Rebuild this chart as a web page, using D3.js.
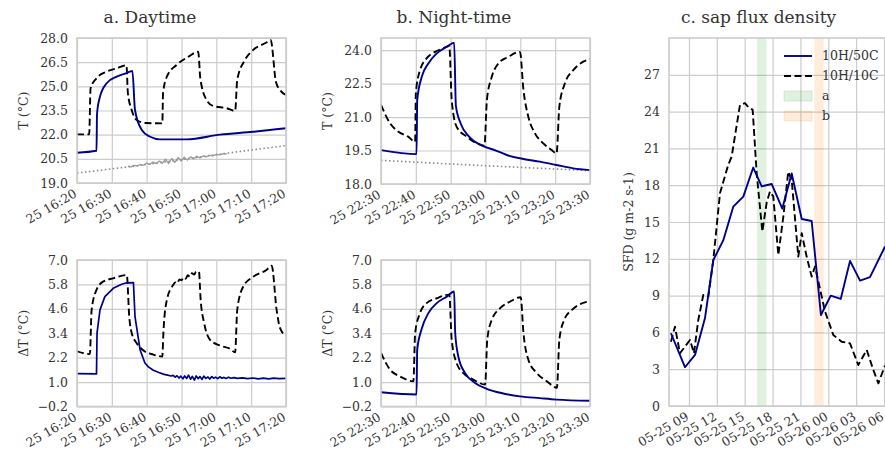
<!DOCTYPE html>
<html>
<head>
<meta charset="utf-8">
<script src="https://cdn.jsdelivr.net/npm/d3@7"></script>
<style>
body { margin: 0; background: #fff; }
svg text { font-family: "DejaVu Serif", serif; fill: #333; }
</style>
</head>
<body>
<svg width="885" height="456"></svg>
<script>
// tick labels
const dayTickLabels = ["25 16:20", "25 16:30", "25 16:40", "25 16:50", "25 17:00", "25 17:10", "25 17:20"];
const nightTickLabels = ["25 22:30", "25 22:40", "25 22:50", "25 23:00", "25 23:10", "25 23:20", "25 23:30"];
const sfdTickLabels = ["05-25 09", "05-25 12", "05-25 15", "05-25 18", "05-25 21", "05-26 00", "05-26 03", "05-26 06"];
const dayTTicks = [19, 20.5, 22, 23.5, 25, 26.5, 28];
const nightTTicks = [18, 19.5, 21, 22.5, 24];
const deltaTicks = [-0.2, 1, 2.2, 3.4, 4.6, 5.8, 7];
const sfdTicks = [0, 3, 6, 9, 12, 15, 18, 21, 24, 27];
const bandA = ["05-25 16:20", "05-25 17:20"];
const bandB = ["05-25 22:30", "05-25 23:30"];

// a. daytime, [minutes after 16:20, value]
const dayT50 = [[0,20.88],[5.6,21.0],[5.75,23.3],[6.6,24.36],[8.5,25.19],[11.4,25.6],[14,25.8],[15.9,25.95],[16.65,23.53],[18.6,22.29],[21,21.87],[23.8,21.71],[31.5,21.71],[41.1,22.0],[50.6,22.18],[60,22.4]];
const dayT10 = [[0,22.02],[3.5,22.02],[3.9,24.88],[5.6,25.5],[8.5,25.91],[11.4,26.12],[14.2,26.3],[14.6,24.6],[15.7,23.53],[17.1,22.91],[20,22.72],[24.5,22.7],[24.7,24.57],[25.8,25.6],[28.6,26.33],[32,26.84],[34.8,27.15],[35.4,25.5],[37.2,24.15],[39.1,23.78],[43,23.64],[45.4,23.47],[46,25.4],[48.2,26.63],[50.6,27.26],[54.4,27.72],[55.6,27.88],[57.1,25.29],[58.3,24.77],[60,24.46]];
const dayTref = [[0,19.62],[20,20.15],[40,20.76],[60,21.32]];
const dayTrefNoise = [[14.6,20.05],[15.5,20.0],[16.4,20.1],[17.3,20.06],[18.2,20.15],[19.1,20.1],[20,20.24],[20.9,20.15],[21.8,20.3],[22.7,20.2],[23.6,20.36],[24.5,20.22],[25.4,20.48],[26.3,20.2],[27.2,20.52],[28.1,20.28],[29,20.58],[29.9,20.36],[30.8,20.6],[31.7,20.42],[32.6,20.62],[33.5,20.5],[34.4,20.66],[35.3,20.56],[36.2,20.68],[37.1,20.62],[38,20.72],[39,20.68],[40,20.78],[41,20.74],[42,20.82],[43,20.8]];
const dayD50 = [[0,1.42],[5.6,1.4],[5.75,3.41],[6.6,4.55],[8,5.2],[10.4,5.61],[12.8,5.81],[14.3,5.88],[16.2,5.89],[16.65,4.22],[18.1,2.59],[19.5,1.94],[20.5,1.75],[21.9,1.58],[23.5,1.47],[25,1.38],[26,1.34],[27,1.3],[27.6,1.33],[28.2,1.24],[28.7,1.31],[29.3,1.2],[29.8,1.29],[30.4,1.16],[30.9,1.3],[31.5,1.18],[32,1.34],[32.6,1.14],[33.1,1.28],[33.7,1.1],[34.2,1.3],[34.8,1.17],[35.3,1.27],[35.9,1.13],[36.4,1.29],[37,1.18],[37.6,1.25],[38.1,1.15],[38.7,1.27],[39.2,1.19],[39.8,1.24],[40.4,1.17],[41,1.26],[41.6,1.19],[42.2,1.23],[42.8,1.18],[43.5,1.24],[44.2,1.19],[45,1.22],[46,1.18],[47.5,1.21],[49,1.17],[50.5,1.2],[52,1.16],[53.5,1.19],[55,1.16],[56.5,1.19],[58,1.17],[60,1.18]];
const dayD10 = [[0,2.51],[3.7,2.38],[4.2,4.55],[5.6,5.53],[7.5,5.94],[10.4,6.1],[14.3,6.26],[15,4.22],[15.7,3.41],[17.1,2.92],[19,2.56],[21.9,2.35],[24.5,2.26],[24.8,3.41],[25.8,5.04],[27.6,5.77],[28.2,5.9],[28.8,5.85],[29.4,6.05],[30,6.0],[30.6,6.15],[31.2,6.08],[31.8,6.25],[32.4,6.18],[33,6.35],[33.6,6.28],[34.2,6.42],[35,6.43],[35.5,5.04],[36.5,3.9],[38.2,3.08],[41,2.8],[43.9,2.64],[45.4,2.46],[46,4.55],[47.7,5.69],[50.6,6.18],[54.4,6.51],[55.9,6.72],[57.3,4.55],[58.3,3.65],[60,3.28]];

// b. night-time, [minutes after 22:30, value]
const nightT50 = [[0,19.52],[10.2,19.34],[10.4,21.76],[11.7,22.8],[13.6,23.4],[16,23.85],[18.9,24.15],[21,24.33],[21.5,21.5],[22.9,20.7],[25.3,20.12],[29,19.72],[33,19.5],[36.1,19.3],[40.9,19.12],[45.6,19.0],[50.4,18.85],[55.2,18.7],[60,18.62]];
const nightT10 = [[0,21.54],[2.6,20.72],[5,20.34],[7.8,20.12],[9.8,19.89],[10,22.06],[11.2,23.1],[13.1,23.63],[15.5,23.92],[17.9,24.08],[19.6,24.18],[20.3,21.76],[21.7,20.57],[24.6,20.12],[27.5,19.82],[29.7,19.72],[30.4,21.76],[31.8,22.8],[33.7,23.4],[36.6,23.7],[39.9,23.92],[40.9,22.21],[42.3,21.01],[44.2,20.27],[46.6,19.82],[49,19.52],[50.4,19.37],[51.2,21.46],[52.8,22.51],[55.2,23.1],[60,23.6]];
const nightTref = [[0,19.06],[30,18.82],[60,18.6]];
const nightD50 = [[0,0.5],[10.2,0.39],[10.4,2.59],[11.6,3.57],[13.6,4.39],[16,4.88],[18.9,5.2],[21,5.45],[21.3,3.41],[22.2,2.26],[24.1,1.45],[27,0.96],[30.3,0.67],[35.1,0.44],[39.9,0.3],[45.6,0.21],[50.4,0.14],[60,0.08]];
const nightD10 = [[0,2.43],[2.6,1.61],[5.4,1.28],[9.3,1.04],[9.8,3.41],[11.2,4.39],[13.1,4.88],[16,5.12],[19.6,5.3],[20.3,3.08],[21.7,1.94],[23.6,1.45],[26.5,1.12],[29.9,0.88],[30.5,3.08],[31.8,4.06],[34.2,4.63],[37.1,4.96],[40.1,5.17],[40.9,3.41],[42.3,2.1],[44.7,1.45],[47.6,1.04],[50.5,0.72],[51.2,3.08],[52.6,4.06],[54.8,4.55],[60,4.98]];

// c. sap flux density, [hours after 05-25 00:00, value]
const sfd50 = [[7.06,5.93],[8.57,3.16],[9.65,4.16],[10.72,7.15],[11.62,11.9],[12.69,13.5],[13.77,16.25],[14.85,17.07],[15.92,19.44],[16.83,17.9],[17.9,18.1],[19.05,16.1],[20.06,18.96],[21.14,15.24],[22.21,15.08],[23.21,7.42],[24.26,9.0],[25.34,8.73],[26.34,11.83],[27.42,10.22],[28.49,10.5],[30.11,13.0]];
const sfd10 = [[7.06,5.24],[7.49,6.47],[8.03,4.3],[8.57,4.84],[9.11,5.38],[9.54,4.3],[10.0,7.0],[10.54,9.05],[11.08,8.9],[11.62,11.9],[12.34,17.35],[13.23,19.66],[13.6,20.34],[14.49,24.55],[15.03,24.69],[15.39,24.36],[15.86,24.14],[16.29,18.97],[16.9,14.22],[17.37,16.6],[17.72,17.48],[18.08,17.07],[18.62,12.3],[19.16,15.44],[19.69,19.1],[20.06,18.43],[20.77,12.18],[21.14,14.09],[21.67,12.18],[22.21,10.55],[22.57,11.37],[23.65,7.7],[24.54,5.79],[25.44,5.24],[26.34,5.11],[27.23,3.34],[28.14,4.57],[28.85,2.94],[29.39,1.85],[29.93,2.94],[30.11,3.3]];

const parseDay = d3.timeParse("%d %H:%M");
const parseSfd = d3.timeParse("%m-%d %H");
const parseBand = d3.timeParse("%m-%d %H:%M");
const fmtDay = d3.timeFormat("%d %H:%M");
const fmtSfd = d3.timeFormat("%m-%d %H");

const dayStart = parseDay(dayTickLabels[0]);
const nightStart = parseDay(nightTickLabels[0]);
const sfdStart = parseSfd("05-25 00");

const byMinutes = (start, arr) => arr.map(d => [new Date(+start + d[0] * 60000), d[1]]);
const byHours = (start, arr) => arr.map(d => [new Date(+start + d[0] * 3600000), d[1]]);

const BLUE = "#00008b";
const svg = d3.select("svg");
let clipId = 0;

function panel(o)
{
  const x = d3.scaleTime().domain(o.xDomain).range([o.left, o.right]);
  const y = d3.scaleLinear().domain(o.yDomain).range([o.bottom, o.top]);
  const g = svg.append("g");
  const w = o.right - o.left, h = o.bottom - o.top;

  // grid
  g.append("g")
    .attr("transform", `translate(0,${o.bottom})`)
    .call(d3.axisBottom(x).tickValues(o.xTicks).tickSize(-h).tickFormat(""))
    .call(s => s.select(".domain").remove())
    .call(s => s.selectAll("line").attr("stroke", "#cccccc").attr("stroke-width", 1.2));
  g.append("g")
    .attr("transform", `translate(${o.left},0)`)
    .call(d3.axisLeft(y).tickValues(o.yTicks).tickSize(-w).tickFormat(""))
    .call(s => s.select(".domain").remove())
    .call(s => s.selectAll("line").attr("stroke", "#cccccc").attr("stroke-width", 1.2));

  const id = "clip" + (clipId++);
  g.append("clipPath").attr("id", id).append("rect")
    .attr("x", o.left).attr("y", o.top).attr("width", w).attr("height", h);
  const plot = g.append("g").attr("clip-path", `url(#${id})`);

  (o.bands || []).forEach(b =>
  {
    plot.append("rect")
      .attr("x", x(b.range[0])).attr("width", x(b.range[1]) - x(b.range[0]))
      .attr("y", o.top).attr("height", h)
      .attr("fill", b.color).attr("fill-opacity", 0.15);
  });

  o.series.forEach(s =>
  {
    const line = d3.line().x(d => x(d[0])).y(d => y(d[1])).curve(s.curve || d3.curveMonotoneX);
    plot.append("path")
      .datum(s.data)
      .attr("d", line)
      .attr("fill", "none")
      .attr("stroke", s.color)
      .attr("stroke-width", s.width || 1.9)
      .attr("stroke-dasharray", s.dash || null)
      .attr("stroke-linejoin", "round");
  });

  // frame
  g.append("rect")
    .attr("x", o.left).attr("y", o.top).attr("width", w).attr("height", h)
    .attr("fill", "none").attr("stroke", "#cccccc").attr("stroke-width", 1.6);

  // tick labels
  g.append("g")
    .attr("transform", `translate(${o.left},0)`)
    .call(d3.axisLeft(y).tickValues(o.yTicks).tickSize(0).tickPadding(9).tickFormat(o.yFormat))
    .call(s => s.select(".domain").remove())
    .call(s => s.selectAll("text").attr("font-size", 12.5).attr("fill", "#333").attr("font-family", null));

  g.append("g")
    .attr("transform", `translate(0,${o.bottom})`)
    .call(d3.axisBottom(x).tickValues(o.xTicks).tickSize(0).tickFormat(o.xFormat))
    .call(s => s.select(".domain").remove())
    .call(s => s.selectAll("text")
      .attr("font-size", 12.5).attr("fill", "#333").attr("font-family", null)
      .attr("text-anchor", "end")
      .attr("y", 0).attr("dy", "0.75em")
      .attr("transform", "translate(-4.5,5) rotate(-30)"));

  g.append("text")
    .attr("transform", `translate(${o.left - o.labelGap},${(o.top + o.bottom) / 2}) rotate(-90)`)
    .attr("text-anchor", "middle")
    .attr("font-size", 12.5)
    .text(o.ylabel);

  if (o.title)
  {
    g.append("text")
      .attr("x", o.title.x).attr("y", 23)
      .attr("text-anchor", "middle")
      .attr("font-size", 17)
      .text(o.title.text);
  }
  return { x, y };
}

const fmt1 = d => d3.format(".1f")(d).replace("-", "\u2212");
const dayTicks = dayTickLabels.map(parseDay);
const nightTicks = nightTickLabels.map(parseDay);
const sfdXTicks = sfdTickLabels.map(parseSfd);
const dayDomain = [dayTicks[0], dayTicks[dayTicks.length - 1]];
const nightDomain = [nightTicks[0], nightTicks[nightTicks.length - 1]];

panel({
  left: 77, right: 286, top: 38, bottom: 183,
  xDomain: dayDomain, yDomain: [19, 28],
  xTicks: dayTicks, xFormat: fmtDay, yTicks: dayTTicks, yFormat: fmt1,
  ylabel: "T (°C)", labelGap: 49,
  title: { x: 150, text: "a. Daytime" },
  series: [
    { data: byMinutes(dayStart, dayTref), color: "#888888", dash: "1.5,2.5", width: 1.6 },
    { data: byMinutes(dayStart, dayTrefNoise), color: "#999999", width: 1.3, curve: d3.curveLinear },
    { data: byMinutes(dayStart, dayT10), color: "#000", dash: "7,3.5" },
    { data: byMinutes(dayStart, dayT50), color: BLUE }
  ]
});

panel({
  left: 77, right: 286, top: 260, bottom: 406.5,
  xDomain: dayDomain, yDomain: [-0.2, 7],
  xTicks: dayTicks, xFormat: fmtDay, yTicks: deltaTicks, yFormat: fmt1,
  ylabel: "\u0394T (°C)", labelGap: 49,
  series: [
    { data: byMinutes(dayStart, dayD10), color: "#000", dash: "7,3.5" },
    { data: byMinutes(dayStart, dayD50), color: BLUE, width: 1.7, curve: d3.curveLinear }
  ]
});

panel({
  left: 381, right: 590, top: 38, bottom: 184,
  xDomain: nightDomain, yDomain: [18, 24.54],
  xTicks: nightTicks, xFormat: fmtDay, yTicks: nightTTicks, yFormat: fmt1,
  ylabel: "T (°C)", labelGap: 49,
  title: { x: 454, text: "b. Night-time" },
  series: [
    { data: byMinutes(nightStart, nightTref), color: "#888888", dash: "1.5,2.5", width: 1.6 },
    { data: byMinutes(nightStart, nightT10), color: "#000", dash: "7,3.5" },
    { data: byMinutes(nightStart, nightT50), color: BLUE }
  ]
});

panel({
  left: 381, right: 590, top: 260, bottom: 406.5,
  xDomain: nightDomain, yDomain: [-0.2, 7],
  xTicks: nightTicks, xFormat: fmtDay, yTicks: deltaTicks, yFormat: fmt1,
  ylabel: "\u0394T (°C)", labelGap: 49,
  series: [
    { data: byMinutes(nightStart, nightD10), color: "#000", dash: "7,3.5" },
    { data: byMinutes(nightStart, nightD50), color: BLUE }
  ]
});

panel({
  left: 669, right: 892, top: 38, bottom: 406,
  xDomain: [new Date(+sfdStart + 6.85 * 3600000), new Date(+sfdStart + 30.86 * 3600000)],
  yDomain: [0, 30],
  xTicks: sfdXTicks, xFormat: fmtSfd, yTicks: sfdTicks, yFormat: d3.format("d"),
  ylabel: "SFD (g m-2 s-1)", labelGap: 36,
  title: { x: 758.5, text: "c. sap flux density" },
  bands: [
    { range: bandA.map(parseBand), color: "#2ca02c" },
    { range: bandB.map(parseBand), color: "#ff7f0e" }
  ],
  series: [
    { data: byHours(sfdStart, sfd10), color: "#000", dash: "7,3.5", curve: d3.curveLinear },
    { data: byHours(sfdStart, sfd50), color: BLUE, curve: d3.curveLinear }
  ]
});

// legend
const legendItems = [
  { label: "10H/50C", type: "line", color: BLUE },
  { label: "10H/10C", type: "line", color: "#000", dash: "7,3.5" },
  { label: "a", type: "patch", color: "#2ca02c" },
  { label: "b", type: "patch", color: "#ff7f0e" }
];
const legend = svg.append("g").attr("transform", "translate(784,56)");
legendItems.forEach((d, i) =>
{
  const row = legend.append("g").attr("transform", `translate(0,${i * 20})`);
  if (d.type === "line")
  {
    row.append("line").attr("x1", 0).attr("x2", 28).attr("y1", 0).attr("y2", 0)
      .attr("stroke", d.color).attr("stroke-width", 1.9).attr("stroke-dasharray", d.dash || null);
  } else
  {
    row.append("rect").attr("x", 0).attr("y", -5).attr("width", 28).attr("height", 10)
      .attr("fill", d.color).attr("fill-opacity", 0.15)
      .attr("stroke", d.color).attr("stroke-opacity", 0.15);
  }
  row.append("text").attr("x", 38).attr("dy", "0.35em").attr("font-size", 12.5).text(d.label);
});
</script>
</body>
</html>
